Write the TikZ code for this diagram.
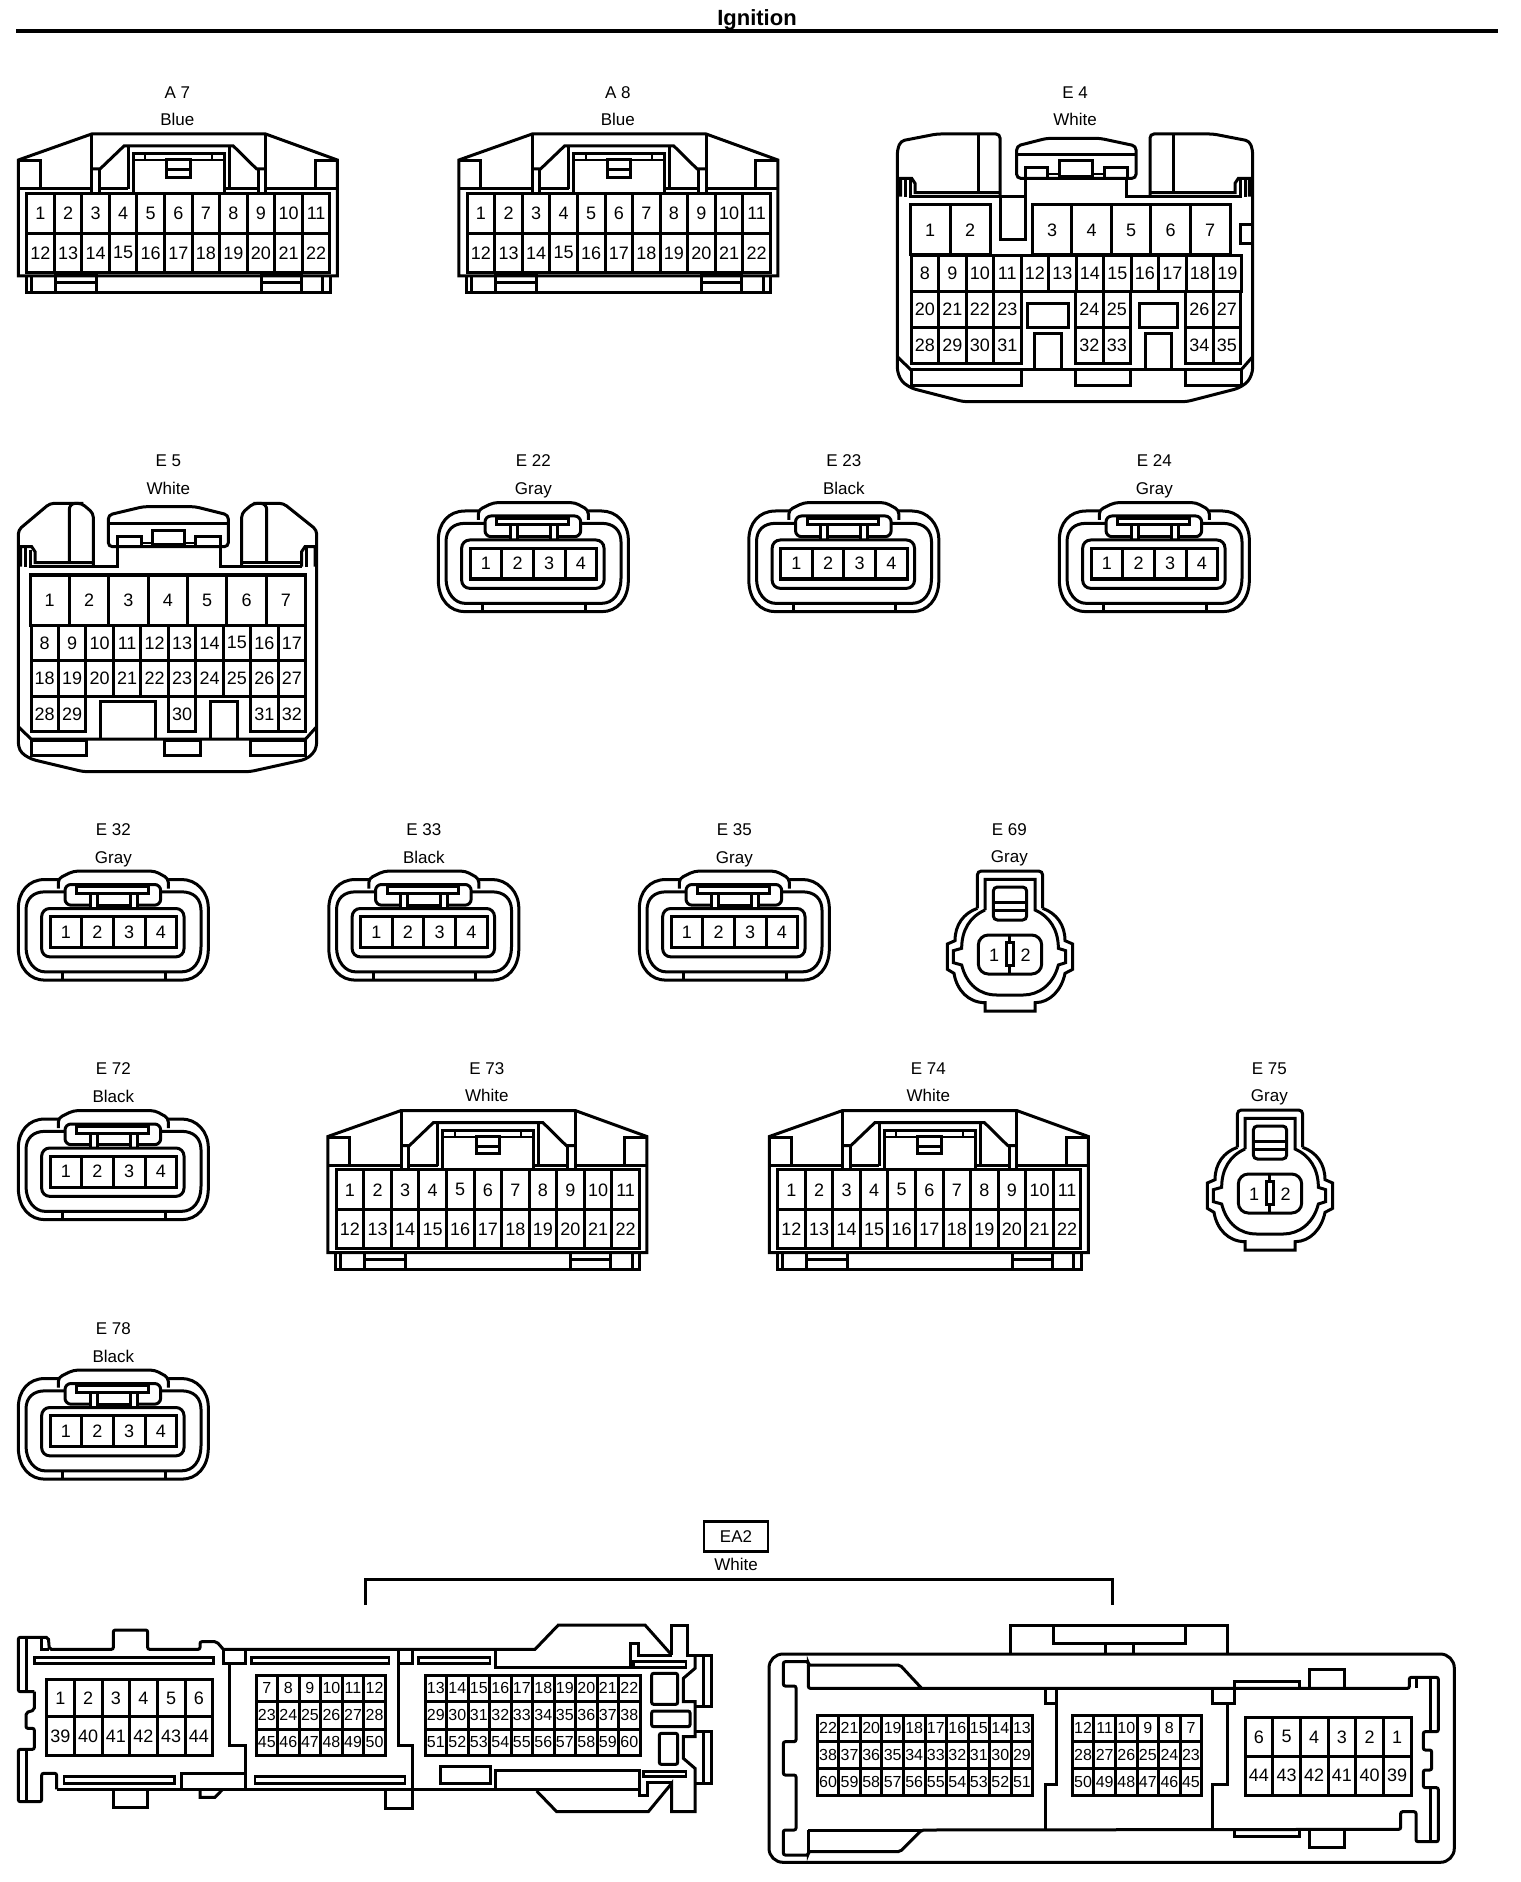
\documentclass[tikz,border=0pt]{standalone}
\usepackage{fontspec}
\setmainfont{Liberation Sans}
\tikzset{
  lbl/.style={inner sep=0pt,font=\fontsize{8.5}{9}\selectfont,text height=6.2pt,text depth=0pt},
  pinA/.style={inner sep=0pt,font=\fontsize{9}{9}\selectfont},
  pinB/.style={inner sep=0pt,font=\fontsize{8}{8}\selectfont},
  pinS/.style={pinA},
  thinln/.style={line width=1pt},
  rc/.style={rounded corners=2pt},
}
% prefix, x0, dx, y0, y1, labels
\newcommand{\cxCells}[6]{%
  \foreach \t [count=\i from 0] in {#6}{%
    \pgfmathsetmacro\xa{#2+(#3)*\i}%
    \pgfmathsetmacro\xb{\xa+(#3)}%
    \pgfmathsetmacro\xm{\xa+(#3)/2}%
    \pgfmathsetmacro\ym{(#4+#5)/2}%
    \draw (\xa,#4) rectangle (\xb,#5);
    \node[pinS] (#1-\t) at (\xm,\ym) {\t};
  }%
}
% name, x, y, label, colour
\newcommand{\cxTwentyTwo}[5]{%
\begin{scope}[shift={(#2,#3)},scale=1/3]
  \node[lbl] (#1-id) at (532,66) {#4};
  \node[lbl] (#1-col) at (532,147) {#5};
  \draw (55,270)--(275,192)--(797,192)--(1012,270)--(1012,618)--(55,618)--cycle;
  \draw (55,272)--(120,272)--(120,357);
  \draw (1012,272)--(945,272)--(945,357);
  \draw (55,357)--(275,357) (298,357)--(385,357) (672,357)--(775,357) (797,357)--(1012,357);
  \draw (275,192)--(275,370) (797,192)--(797,370);
  \draw (275,297)--(300,297)--(372,228)--(700,228)--(770,297)--(797,297);
  \draw (298,297)--(298,370) (775,297)--(775,370);
  \draw (385,228)--(385,357) (688,228)--(688,357);
  \draw (400,370)--(400,252)--(672,252)--(672,370);
  \draw[thinln] (400,270)--(672,270) (435,252)--(435,270) (635,252)--(635,270);
  \draw (500,270) rectangle (570,322);
  \draw (500,300)--(570,300);
  \cxCells{#1a}{80}{82.7}{370}{490}{1,2,3,4,5,6,7,8,9,10,11}
  \cxCells{#1b}{80}{82.7}{490}{607}{12,13,14,15,16,17,18,19,20,21,22}
  \draw (78,618)--(78,668)--(990,668)--(990,618);
  \draw (93,618)--(93,668) (968,618)--(968,668);
  \draw (165,618) rectangle (288,668);
  \draw (165,638)--(288,638);
  \draw (783,618) rectangle (903,668);
  \draw (783,638)--(903,638);
\end{scope}}
% four pin
\newcommand{\cxFour}[5]{%
\begin{scope}[shift={(#2,#3)},scale=1/3]
  \node[lbl] (#1-id) at (340,62) {#4};
  \node[lbl] (#1-col) at (340,145) {#5};
  \draw[rc] (175,240)--(175,210)--(220,188)--(465,188)--(505,210)--(505,240);
  \draw (175,213)--(135,213) .. controls (85,213) and (55,250) .. (55,300) -- (55,420) .. controls (55,480) and (90,515) .. (135,515) -- (545,515) .. controls (590,515) and (625,480) .. (625,420) -- (625,300) .. controls (625,250) and (590,213) .. (545,213) -- (505,213);
  \draw (195,250)--(135,250) .. controls (100,250) and (78,270) .. (78,305) -- (78,415) .. controls (78,460) and (105,490) .. (135,490) -- (545,490) .. controls (580,490) and (603,460) .. (603,415) -- (603,305) .. controls (603,270) and (580,250) .. (545,250) -- (482,250);
  \draw[rounded corners=3pt] (270,290)--(195,290)--(195,228)--(482,228)--(482,290)--(412,290);
  \draw (292,290)--(390,290);
  \draw (230,235) rectangle (445,255);
  \draw (270,255)--(270,298) (292,255)--(292,298) (390,255)--(390,298) (412,255)--(412,298);
  \draw[rounded corners=4pt] (125,300) rectangle (552,445);
  \cxCells{#1p}{150}{95}{325}{417}{1,2,3,4}
  \draw (188,490)--(188,515) (495,490)--(495,515);
\end{scope}}
% two pin
\newcommand{\cxTwo}[5]{%
\begin{scope}[shift={(#2,#3)},scale=1/3]
  \node[lbl] (#1-id) at (238,58) {#4};
  \node[lbl] (#1-col) at (238,140) {#5};
  \draw[rc] (142,295)--(142,183)--(338,183)--(338,295);
  \draw (338,295) .. controls (380,310) and (405,345) .. (405,392) -- (428,402) -- (428,478) -- (405,490) .. controls (395,540) and (360,578) .. (315,578) -- (315,603) -- (165,603) -- (165,578) .. controls (115,578) and (80,540) .. (72,490) -- (52,478) -- (52,402) -- (75,392) .. controls (75,345) and (100,310) .. (142,295);
  \draw (165,300)--(165,208)--(315,208)--(315,300) .. controls (360,320) and (385,360) .. (385,415) -- (407,422) -- (407,458) -- (385,465) .. controls (370,525) and (325,555) .. (280,555) -- (200,555) .. controls (150,555) and (110,525) .. (95,465) -- (70,458) -- (70,422) -- (95,415) .. controls (95,360) and (120,320) .. (165,300);
  \draw[rounded corners=2pt] (190,330) rectangle (290,231);
  \draw (190,277)--(290,277) (190,301)--(290,301);
  \draw[rounded corners=5pt] (145,375) rectangle (335,492);
  \draw (238,375)--(238,398) (238,467)--(238,492);
  \draw (228,398) rectangle (250,467);
  \node[pinA] (#1-p1) at (192,437) {1};
  \node[pinA] (#1-p2) at (287,437) {2};
\end{scope}}
\begin{document}
\begin{tikzpicture}[x=0.5pt,y=-0.5pt,line width=1.5pt]
\useasboundingbox (0,0) rectangle (1520,1882);
\node[inner sep=0pt,font=\fontsize{11}{12}\selectfont\bfseries] (title) at (757,19.5) {Ignition};
\coordinate (ruleL) at (16,31);
\coordinate (ruleR) at (1498,31);
\draw[line width=2pt] (ruleL)--(ruleR);

\cxTwentyTwo{A7}{0}{70}{A 7}{Blue}
\cxTwentyTwo{A8}{440.5}{70}{A 8}{Blue}
\cxTwentyTwo{E73}{309.5}{1046.5}{E 73}{White}
\cxTwentyTwo{E74}{751}{1046.5}{E 74}{White}

% E4
\begin{scope}[shift={(880,70)},scale=1/3]
  \node[lbl] (E4-id) at (585,68) {E 4};
  \node[lbl] (E4-col) at (585,148) {White};
  \draw[rc] (360,380)--(360,192)--(170,192)--(62,213)--(52,240)--(52,905)--(65,935)--(95,955)--(250,995)--(920,995)--(1075,955)--(1105,935)--(1118,905)--(1118,240)--(1108,213)--(1000,192)--(810,192)--(810,380);
  \draw (360,380)--(360,510)--(435,510)--(435,325);
  \draw[rc] (410,325)--(410,228)--(500,205)--(660,205)--(768,228)--(768,325)--cycle;
  \draw (410,255)--(768,255);
  \draw (435,325)--(435,293)--(503,293)--(503,325);
  \draw (538,325)--(538,273)--(637,273)--(637,320)--(538,320);
  \draw (672,325)--(672,293)--(743,293)--(743,325);
  \draw[thinln] (503,311)--(538,311) (637,311)--(672,311);
  \draw (740,325)--(740,380)--(810,380);
  \draw (295,192)--(295,370) (880,192)--(880,370);
  \draw (62,380)--(62,325)--(95,325)--(105,340)--(105,368)--(360,368);
  \draw (75,325)--(75,380);
  \draw (90,330)--(90,380)--(435,380);
  \draw (1108,380)--(1108,325)--(1075,325)--(1065,340)--(1065,368)--(810,368);
  \draw (1095,325)--(1095,380);
  \draw (1080,330)--(1080,380)--(810,380);
  \cxCells{E4a}{90}{120}{405}{555}{1,2}
  \cxCells{E4b}{457}{118.6}{405}{555}{3,4,5,6,7}
  \cxCells{E4c}{93}{82.5}{557}{665}{8,9,10,11,12,13,14,15,16,17,18,19}
  \cxCells{E4d}{93}{82.5}{665}{772}{20,21,22,23}
  \cxCells{E4e}{587}{82.5}{665}{772}{24,25}
  \cxCells{E4f}{917}{82.5}{665}{772}{26,27}
  \cxCells{E4g}{93}{82.5}{772}{880}{28,29,30,31}
  \cxCells{E4h}{587}{82.5}{772}{880}{32,33}
  \cxCells{E4i}{917}{82.5}{772}{880}{34,35}
  \draw (443,700) rectangle (565,772);
  \draw (778,700) rectangle (893,772);
  \draw (463,900)--(463,790)--(545,790)--(545,900);
  \draw (795,900)--(795,790)--(875,790)--(875,900);
  \draw (93,900)--(1083,900);
  \draw (52,860)--(93,900) (1118,860)--(1083,900);
  \draw (93,900) rectangle (423,947);
  \draw (587,900) rectangle (752,947);
  \draw (917,900) rectangle (1083,947);
  \draw (1118,465)--(1082,465)--(1082,522)--(1118,522);
\end{scope}

% E5
\begin{scope}[shift={(0,440)},scale=1/3]
  \node[lbl] (E5-id) at (505,62) {E 5};
  \node[lbl] (E5-col) at (505,145) {White};
  \draw[rc] (280,380)--(280,220)--(245,190)--(150,190)--(55,270)--(55,920)--(65,940)--(95,958)--(250,995)--(750,995)--(917,958)--(940,940)--(950,920)--(950,270)--(850,190)--(760,190)--(725,220)--(725,380);
  \draw[rounded corners=3pt] (208,370)--(208,190)--(250,190);
  \draw[rounded corners=3pt] (800,370)--(800,190)--(760,190);
  \draw[rc] (325,320)--(325,225)--(430,200)--(585,200)--(685,225)--(685,320)--cycle;
  \draw (325,250)--(685,250);
  \draw (353,320)--(353,290)--(423,290)--(423,320);
  \draw (458,320)--(458,272)--(552,272)--(552,315)--(458,315);
  \draw (587,320)--(587,290)--(660,290)--(660,320);
  \draw[thinln] (423,308)--(458,308) (552,308)--(587,308);
  \draw (353,320)--(353,380)--(90,380)--(90,330);
  \draw (660,320)--(660,380)--(905,380);
  \draw (62,380)--(62,320)--(95,320)--(105,335)--(105,368)--(280,368);
  \draw (75,320)--(75,380);
  \draw (945,380)--(945,320)--(915,320)--(905,335)--(905,380);
  \draw (920,320)--(920,380);
  \draw (725,368)--(905,368);
  \cxCells{E5a}{90}{118.1}{405}{555}{1,2,3,4,5,6,7}
  \cxCells{E5b}{93}{82.4}{555}{662}{8,9,10,11,12,13,14,15,16,17}
  \cxCells{E5c}{93}{82.4}{662}{770}{18,19,20,21,22,23,24,25,26,27}
  \cxCells{E5d}{93}{82.4}{770}{875}{28,29}
  \cxCells{E5e}{505}{82.4}{770}{875}{30}
  \cxCells{E5f}{752}{82.4}{770}{875}{31,32}
  \draw (300,897)--(300,785)--(465,785)--(465,897);
  \draw (630,897)--(630,785)--(713,785)--(713,897);
  \draw (55,860)--(93,897)--(917,897)--(950,860);
  \draw (93,900) rectangle (258,945);
  \draw (493,900) rectangle (600,945);
  \draw (752,900) rectangle (917,945);
\end{scope}

\cxFour{E22}{420}{440}{E 22}{Gray}
\cxFour{E23}{730.5}{440}{E 23}{Black}
\cxFour{E24}{1041}{440}{E 24}{Gray}
\cxFour{E32}{0}{808.5}{E 32}{Gray}
\cxFour{E33}{310.5}{808.5}{E 33}{Black}
\cxFour{E35}{621}{808.5}{E 35}{Gray}
\cxFour{E72}{0}{1048}{E 72}{Black}
\cxFour{E78}{0}{1307.5}{E 78}{Black}
\cxTwo{E69}{930}{810}{E 69}{Gray}
\cxTwo{E75}{1190}{1049}{E 75}{Gray}

% EA2 label and bracket
\node[draw,line width=1.2pt,inner sep=0pt,minimum width=32pt,minimum height=15pt,font=\fontsize{8.5}{9}\selectfont] (EA2-id) at (736,1536.5) {EA2};
\node[lbl] (EA2-col) at (736,1564) {White};
\coordinate (brL) at (365,1605);
\coordinate (brR) at (1112,1605);
\draw (brL)--++(0,-26)-|(brR);

% EA2 left, part 1
\begin{scope}[shift={(0,1600)},scale=1/3]
  \draw[rounded corners=1pt] (103,275)--(55,275)--(55,112)--(145,112)--(148,148)--(340,148)--(340,90)--(443,90)--(443,148)--(600,148)--(600,125)--(650,125)--(670,148);
  \draw (125,112)--(125,148)--(148,148);
  \draw (78,112)--(78,275) (78,448)--(78,605);
  \draw[rounded corners=1pt] (103,275)--(103,330)--(78,338)--(78,385)--(103,385)--(103,448)--(55,448)--(55,605)--(125,605)--(125,520)--(170,520)--(170,568);
  \draw (340,568)--(340,622)--(443,622)--(443,568);
  \draw (600,568)--(600,592)--(645,592)--(668,568);
  \draw[line width=1.2pt] (103,172) rectangle (640,190);
  \draw[line width=1.2pt] (192,530) rectangle (523,550);
  \draw (543,568)--(543,520)--(735,520);
  \draw (670,148) rectangle (735,190);
  \draw (688,190)--(688,437)--(735,437)--(735,568);
  \draw[line width=1.2pt] (755,172) rectangle (1167,190);
  \cxCells{EA2La}{140}{83}{238}{350}{1,2,3,4,5,6}
  \cxCells{EA2Lb}{140}{83}{350}{465}{39,40,41,42,43,44}
  \tikzset{pinS/.style={pinB}}
  \cxCells{EA2Lc}{768}{64.7}{225}{305}{7,8,9,10,11,12}
  \cxCells{EA2Ld}{768}{64.7}{305}{387}{23,24,25,26,27,28}
  \cxCells{EA2Le}{768}{64.7}{387}{467}{45,46,47,48,49,50}
\end{scope}

% EA2 left, part 2
\begin{scope}[shift={(380,1600)},scale=1/3]
  \tikzset{pinS/.style={pinB}}
  \draw (-470,148)--(465,148)--(535,75)--(795,75)--(875,165);
  \draw (875,165)--(875,75)--(922,75)--(922,165)--(995,165)--(995,318)--(945,318);
  \draw (945,165)--(945,205)--(910,235)--(910,305)--(945,305)--(945,410)--(910,410)--(910,475)--(945,505)--(945,635)--(875,635)--(875,550)--(805,635)--(530,635)--(470,573);
  \draw (945,395)--(995,395)--(995,550)--(945,550);
  \draw (970,165)--(970,318) (970,395)--(970,550);
  \draw (-970,568)--(777,568);
  \draw (345,148)--(345,203)--(750,203)--(750,130)--(775,130)--(775,165)--(875,165);
  \draw (345,568)--(345,510)--(777,510)--(777,585)--(803,585)--(803,548)--(875,548);
  \draw[line width=1.2pt] (760,185) rectangle (918,203);
  \draw[line width=1.2pt] (790,515) rectangle (918,530);
  \draw (180,498) rectangle (330,550);
  \draw[line width=1.2pt] (115,172) rectangle (330,190);
  \draw[line width=1.2pt] (-375,530)--(75,530)--(75,550)--(-375,550)--cycle;
  \draw (55,148)--(55,437)--(97,437)--(97,625)--(15,625)--(15,568);
  \draw (55,190)--(97,190)--(97,148);
  \cxCells{EA2Lf}{135}{64.5}{225}{305}{13,14,15,16,17,18,19,20,21,22}
  \cxCells{EA2Lg}{135}{64.5}{305}{387}{29,30,31,32,33,34,35,36,37,38}
  \cxCells{EA2Lh}{135}{64.5}{387}{467}{51,52,53,54,55,56,57,58,59,60}
  \draw[rounded corners=1pt] (815,220) rectangle (893,313);
  \draw[rounded corners=1pt] (815,333) rectangle (930,380);
  \draw[rounded corners=1pt] (838,400) rectangle (893,493);
\end{scope}

% EA2 right
\draw[rounded corners=7pt] (769,1654) rectangle (1454.3,1862.3);
\begin{scope}[shift={(750,1600)},scale=1/3]
  \tikzset{pinS/.style={pinB}}
  \draw (780,162)--(780,75)--(1432,75)--(1432,162);
  \draw (910,75)--(910,130)--(1305,130)--(1305,75);
  \draw (1065,130)--(1065,162) (1150,130)--(1150,162);
  \draw[rounded corners=1pt] (515,265)--(450,195)--(175,195)--(175,185)--(100,185)--(100,258)--(138,258)--(138,425)--(100,425)--(100,525)--(138,525)--(138,690)--(100,690)--(100,765)--(175,765)--(175,755)--(450,755)--(515,690)--(1952,688)--(1952,635)--(1998,635)--(1998,725)--(2065,725)--(2065,563)--(2020,563)--(2020,510)--(2045,510)--(2045,450)--(2020,450)--(2020,395)--(2065,395)--(2065,232)--(1978,232)--(1978,265)--(175,265)--(175,195);
  \draw (175,690)--(175,755) (175,690)--(515,690);
  \draw (2042,232)--(2042,395) (2042,563)--(2042,725) (1998,232)--(1998,265);
  \draw (885,265)--(885,310)--(920,310)--(920,553)--(885,553)--(885,688);
  \draw (920,265)--(920,310);
  \cxCells{EA2Ra}{202}{64.6}{345}{425}{22,21,20,19,18,17,16,15,14,13}
  \cxCells{EA2Rb}{202}{64.6}{425}{505}{38,37,36,35,34,33,32,31,30,29}
  \cxCells{EA2Rc}{202}{64.6}{505}{585}{60,59,58,57,56,55,54,53,52,51}
\end{scope}
\begin{scope}[shift={(1060,1600)},scale=1/3]
  \tikzset{pinS/.style={pinB}}
  \draw (458,265)--(458,310)--(503,310)--(503,553)--(458,553)--(458,688);
  \draw (522,265)--(522,310)--(503,310);
  \draw (522,265)--(522,243)--(718,243)--(718,265);
  \draw (522,688)--(522,708)--(718,708)--(718,688);
  \draw (748,265)--(748,208)--(853,208)--(853,265);
  \draw (748,688)--(748,742)--(853,742)--(853,688);
  \cxCells{EA2Rd}{37}{64.7}{345}{425}{12,11,10,9,8,7}
  \cxCells{EA2Re}{37}{64.7}{425}{505}{28,27,26,25,24,23}
  \cxCells{EA2Rf}{37}{64.7}{505}{585}{50,49,48,47,46,45}
  \tikzset{pinS/.style={pinA}}
  \cxCells{EA2Rg}{555}{83}{353}{468}{6,5,4,3,2,1}
  \cxCells{EA2Rh}{555}{83}{468}{585}{44,43,42,41,40,39}
\end{scope}
\end{tikzpicture}
\end{document}
